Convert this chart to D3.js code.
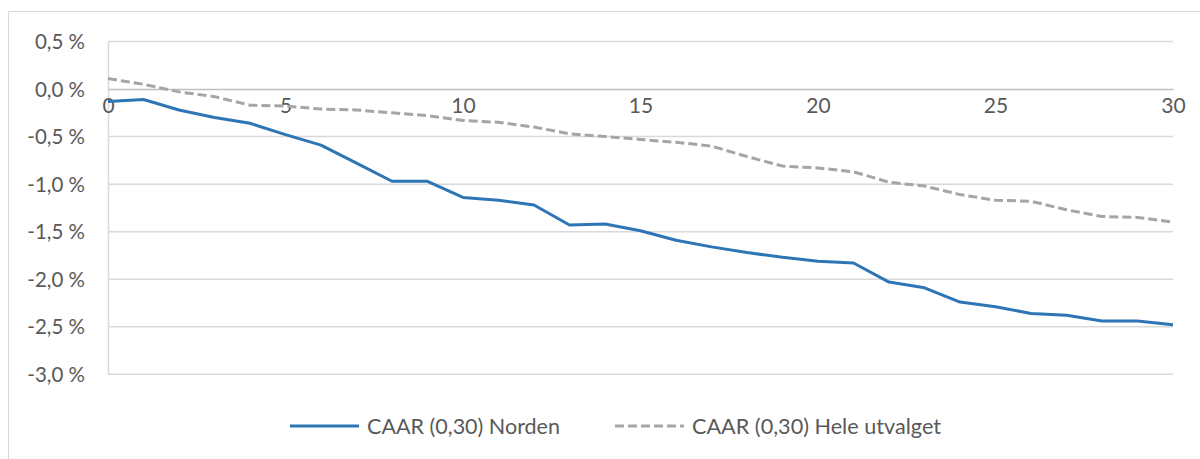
<!DOCTYPE html>
<html>
<head>
<meta charset="utf-8">
<script src="https://cdn.jsdelivr.net/npm/d3@7"></script>
<style>
  body { margin: 0; background: #fff; }
  text { font-family: Lato, "Open Sans", sans-serif; fill: #595959; }
</style>
</head>
<body>
<svg id="chart"></svg>
<script>
// event days 0..30
var days = d3.range(0, 31);

// CAAR (0,30) Norden, in percent
var norden = [-0.13, -0.11, -0.22, -0.30, -0.36, -0.48, -0.59, -0.78, -0.97, -0.97,
              -1.14, -1.17, -1.22, -1.43, -1.42, -1.49, -1.59, -1.66, -1.72, -1.77,
              -1.81, -1.83, -2.03, -2.09, -2.24, -2.29, -2.36, -2.38, -2.44, -2.44, -2.48];

// CAAR (0,30) Hele utvalget, in percent
var hele = [0.11, 0.05, -0.03, -0.08, -0.17, -0.18, -0.21, -0.22, -0.25, -0.28,
            -0.33, -0.35, -0.40, -0.47, -0.50, -0.53, -0.56, -0.60, -0.71, -0.81,
            -0.83, -0.87, -0.98, -1.02, -1.11, -1.17, -1.18, -1.27, -1.34, -1.35, -1.40];

var yTicks = [0.5, 0, -0.5, -1.0, -1.5, -2.0, -2.5, -3.0];
var xTicks = [0, 5, 10, 15, 20, 25, 30];
var seriesNames = ["CAAR (0,30) Norden", "CAAR (0,30) Hele utvalget"];

var screen = {width: 1200, height: 459};
var plot = {left: 108, right: 1173, top: 41.5, bottom: 374.3};

var svg = d3.select("#chart")
    .attr("width", screen.width)
    .attr("height", screen.height);

// outer chart frame (only top/left visible in the picture)
svg.append("rect")
    .attr("x", 8.5).attr("y", 11.5)
    .attr("width", 1200).attr("height", 460)
    .attr("fill", "none")
    .attr("stroke", "#d9d9d9")
    .attr("stroke-width", 1);

var xScale = d3.scaleLinear().domain([0, 30]).range([plot.left, plot.right]);
var yScale = d3.scaleLinear().domain([-3, 0.5]).range([plot.bottom, plot.top]);

// gridlines
svg.append("g")
    .selectAll("line")
    .data(yTicks.filter(function(d){ return d !== 0; }))
    .enter()
    .append("line")
    .attr("x1", plot.left).attr("x2", plot.right)
    .attr("y1", function(d){ return yScale(d); })
    .attr("y2", function(d){ return yScale(d); })
    .attr("stroke", "#d9d9d9")
    .attr("stroke-width", 1.5);

// y axis
var fmt = function(v)
{
    return (v < 0 ? "-" : "") + Math.abs(v).toFixed(1).replace(".", ",") + " %";
};
var yAxis = d3.axisLeft(yScale).tickValues(yTicks).tickFormat(fmt).tickSize(0).tickPadding(23);
var yg = svg.append("g")
    .attr("transform", "translate(" + plot.left + ",0)")
    .call(yAxis);
yg.select(".domain").attr("stroke", "#d9d9d9").attr("stroke-width", 1.5);
yg.selectAll("text").style("font-size", "20.5px").attr("fill", "#595959").attr("dy", "0.35em");

// x axis sits on the zero line
var xAxis = d3.axisBottom(xScale).tickValues(xTicks).tickSize(0).tickPadding(9);
var xg = svg.append("g")
    .attr("transform", "translate(0," + yScale(0) + ")")
    .call(xAxis);
xg.select(".domain").attr("stroke", "#bfbfbf").attr("stroke-width", 1.5);
xg.selectAll("text").style("font-size", "21px").attr("fill", "#595959");

var line = d3.line()
    .x(function(d, i){ return xScale(days[i]); })
    .y(function(d){ return yScale(d); });

svg.append("path")
    .datum(hele)
    .attr("d", line)
    .attr("fill", "none")
    .attr("stroke", "#a5a5a5")
    .attr("stroke-width", 3)
    .attr("stroke-dasharray", "9,4");

svg.append("path")
    .datum(norden)
    .attr("d", line)
    .attr("fill", "none")
    .attr("stroke", "#2e75b6")
    .attr("stroke-width", 3)
    .attr("stroke-linejoin", "round");

// legend
var legend = svg.append("g");
var legendItems = [
    {name: seriesNames[0], x: 290, width: 193, color: "#2e75b6", dash: null},
    {name: seriesNames[1], x: 615, width: 249, color: "#a5a5a5", dash: "9,4"}
];
legendItems.forEach(function(item)
{
    legend.append("line")
        .attr("x1", item.x).attr("x2", item.x + 69)
        .attr("y1", 426).attr("y2", 426)
        .attr("stroke", item.color)
        .attr("stroke-width", 3)
        .attr("stroke-dasharray", item.dash);
    legend.append("text")
        .attr("x", item.x + 77)
        .attr("y", 426)
        .attr("dy", "0.36em")
        .attr("textLength", item.width)
        .attr("lengthAdjust", "spacingAndGlyphs")
        .style("font-size", "21.5px")
        .text(item.name);
});
</script>
</body>
</html>
